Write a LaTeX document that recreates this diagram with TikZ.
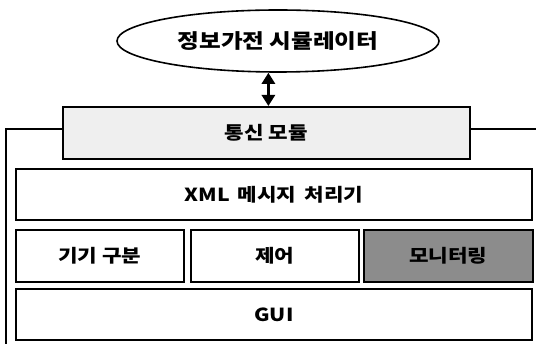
\documentclass[tikz,border=0pt]{standalone}
\usepackage{fontspec}
\setmainfont{Noto Sans CJK KR}[FakeStretch=1.18]
\usetikzlibrary{shapes.geometric,arrows.meta}
\definecolor{lightfill}{HTML}{EFEFEF}
\definecolor{darkfill}{HTML}{8C8C8C}
\tikzset{
  blk/.style={draw=black, line width=1.8pt, inner sep=0pt, anchor=north west, font=\fontsize{18}{20}\selectfont\bfseries},
  frameline/.style={draw=black, line width=1.8pt},
}
\begin{document}
\begin{tikzpicture}[x=1pt,y=-1pt]
\useasboundingbox (0,0) rectangle (536,344);
\node[ellipse, draw, line width=1.6pt, minimum width=322pt, minimum height=62pt, inner sep=0pt, font=\fontsize{20}{22}\selectfont\bfseries] (ell) at (278,41) {정보가전 시뮬레이터};
\node[blk, fill=lightfill, minimum width=407pt, minimum height=52pt] (comm) at (62,106) {통신 모듈};
\node[blk, minimum width=516pt, minimum height=51pt] (xml) at (15,168) {XML\hspace{0.45em}메시지\hspace{0.45em}처리기};
\node[blk, minimum width=168pt, minimum height=52pt] (dev) at (15,229) {기기 구분};
\node[blk, minimum width=168pt, minimum height=52pt] (ctl) at (190,229) {제어};
\node[blk, fill=darkfill, minimum width=169pt, minimum height=52pt] (mon) at (363,229) {모니터링};
\node[blk, minimum width=516pt, minimum height=51pt] (gui) at (15,288) {GUI};
\coordinate (frTL) at (6,129);
\coordinate (frTR) at (540,129);
\coordinate (frBL) at (6,350);
\draw[frameline] (comm.west |- frTL) -- (frTL) -- (frBL);
\draw[frameline] (comm.east |- frTR) -- (frTR);
\draw[line width=3.5pt, {Triangle[width=13pt,length=11pt]}-{Triangle[width=13pt,length=11pt]}] ([xshift=2pt]comm.north) -- ([xshift=2pt]comm.north |- ell.south);
\end{tikzpicture}
\end{document}
